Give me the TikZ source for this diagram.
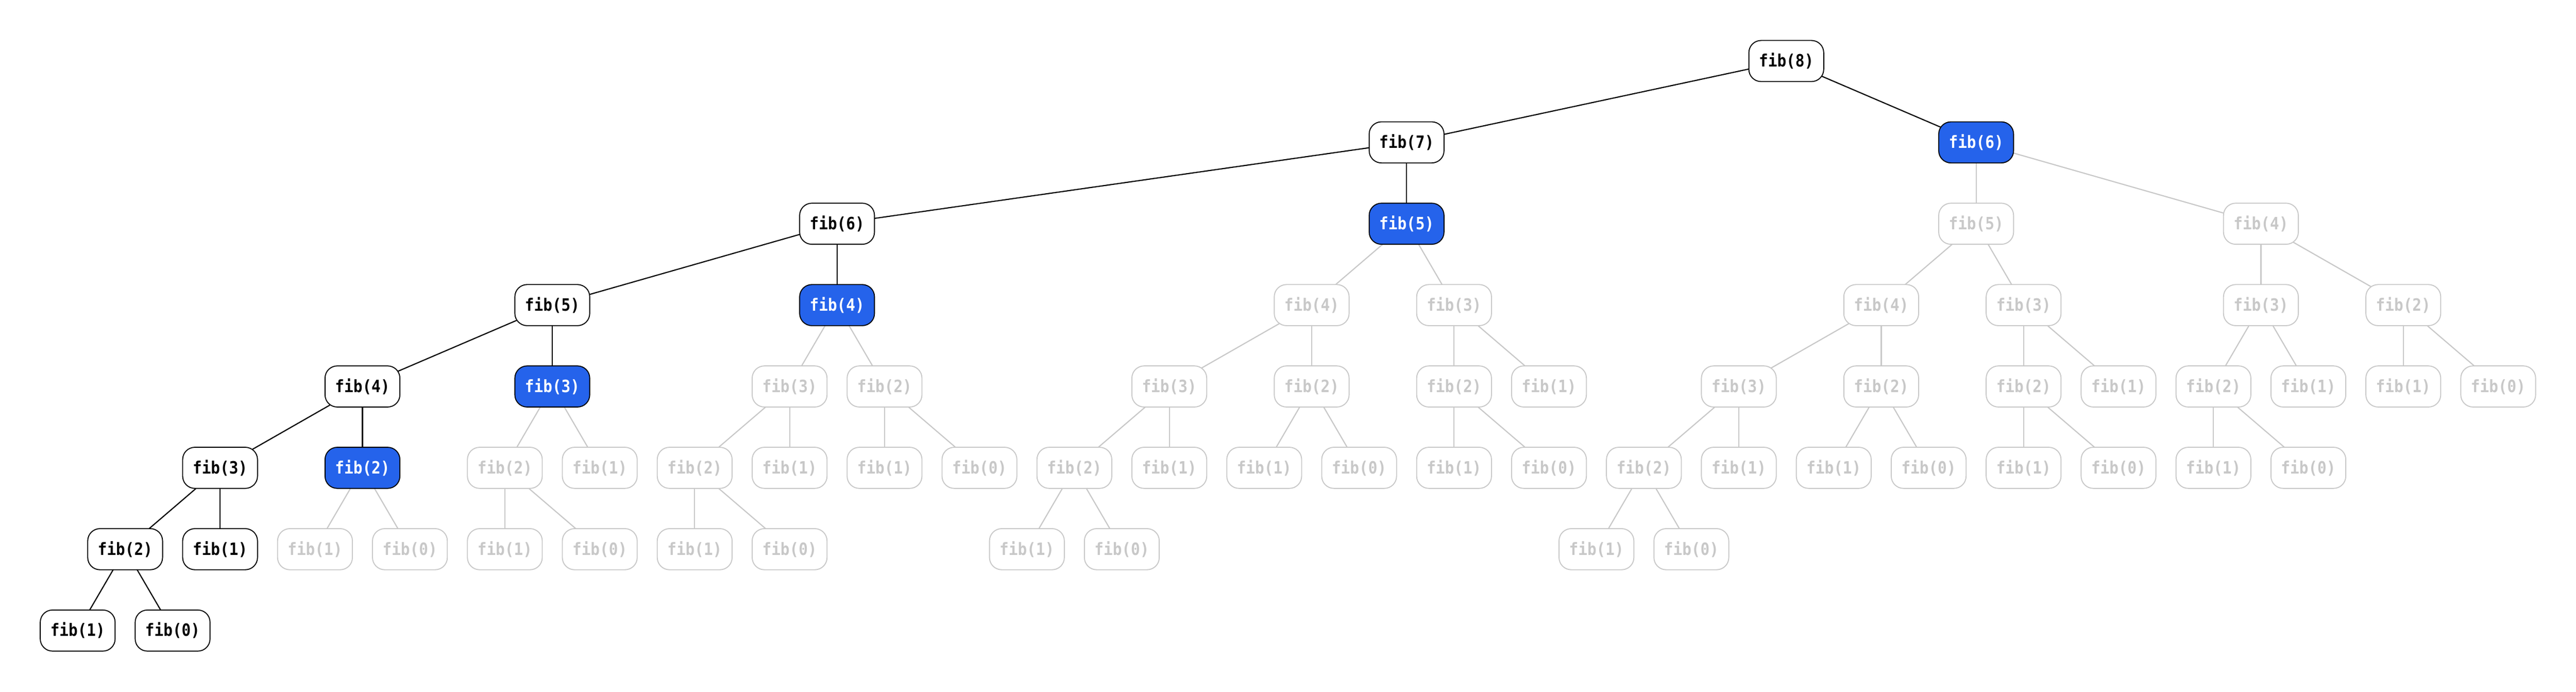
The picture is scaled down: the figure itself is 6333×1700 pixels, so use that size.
\documentclass[tikz,border=0pt]{standalone}
\usepackage{fontspec}
\setmonofont{DejaVu Sans Mono}
\usetikzlibrary{backgrounds}
\definecolor{hiblue}{HTML}{2563EB}
\definecolor{faint}{RGB}{200,200,200}
\tikzset{
  fib/.style={rectangle, rounded corners=7.5pt, minimum width=46pt, minimum height=25.25pt,
    inner sep=0pt, line width=0.6pt, fill=white,
    font=\fontsize{9.3}{11}\selectfont\ttfamily\bfseries},
  live/.style={fib, draw=black, text=black},
  memo/.style={fib, draw=black, fill=hiblue, text=white},
  skip/.style={fib, draw=faint, text=faint},
  ledge/.style={draw=black, line width=0.7pt},
  sedge/.style={draw=faint, line width=0.7pt}
}
\newcommand{\fibnode}[5]{\node[#4] (#1) at ({191+#2*116.68},{150+200*#3}) {\scalebox{1}[1.12]{fib(#5)}};}
\begin{document}
\begin{tikzpicture}[x=0.25pt, y=-0.25pt]
\useasboundingbox (0,0) rectangle (6333,1700);
% level 0
\fibnode{a}{36}{0}{live}{8}
% level 1
\fibnode{b}{28}{1}{live}{7}
\fibnode{c}{40}{1}{memo}{6}
% level 2
\fibnode{d}{16}{2}{live}{6}
\fibnode{e}{28}{2}{memo}{5}
\fibnode{f}{40}{2}{skip}{5}
\fibnode{g}{46}{2}{skip}{4}
% level 3
\fibnode{h}{10}{3}{live}{5}
\fibnode{i}{16}{3}{memo}{4}
\fibnode{j}{26}{3}{skip}{4}
\fibnode{l}{29}{3}{skip}{3}
\fibnode{m}{38}{3}{skip}{4}
\fibnode{n}{41}{3}{skip}{3}
\fibnode{o}{46}{3}{skip}{3}
\fibnode{p}{49}{3}{skip}{2}
% level 4
\fibnode{q}{6}{4}{live}{4}
\fibnode{r}{10}{4}{memo}{3}
\fibnode{s}{15}{4}{skip}{3}
\fibnode{t}{17}{4}{skip}{2}
\fibnode{u}{23}{4}{skip}{3}
\fibnode{v}{26}{4}{skip}{2}
\fibnode{w}{29}{4}{skip}{2}
\fibnode{x}{31}{4}{skip}{1}
\fibnode{y}{35}{4}{skip}{3}
\fibnode{z}{38}{4}{skip}{2}
\fibnode{aa}{41}{4}{skip}{2}
\fibnode{ab}{43}{4}{skip}{1}
\fibnode{ac}{45}{4}{skip}{2}
\fibnode{ad}{47}{4}{skip}{1}
\fibnode{ae}{49}{4}{skip}{1}
\fibnode{af}{51}{4}{skip}{0}
% level 5
\fibnode{ba}{3}{5}{live}{3}
\fibnode{bb}{6}{5}{memo}{2}
\fibnode{bc}{9}{5}{skip}{2}
\fibnode{bd}{11}{5}{skip}{1}
\fibnode{be}{13}{5}{skip}{2}
\fibnode{bf}{15}{5}{skip}{1}
\fibnode{bg}{17}{5}{skip}{1}
\fibnode{bh}{19}{5}{skip}{0}
\fibnode{bi}{21}{5}{skip}{2}
\fibnode{bj}{23}{5}{skip}{1}
\fibnode{bk}{25}{5}{skip}{1}
\fibnode{bl}{27}{5}{skip}{0}
\fibnode{bm}{29}{5}{skip}{1}
\fibnode{bn}{31}{5}{skip}{0}
\fibnode{bo}{33}{5}{skip}{2}
\fibnode{bp}{35}{5}{skip}{1}
\fibnode{bq}{37}{5}{skip}{1}
\fibnode{br}{39}{5}{skip}{0}
\fibnode{bs}{41}{5}{skip}{1}
\fibnode{bt}{43}{5}{skip}{0}
\fibnode{bu}{45}{5}{skip}{1}
\fibnode{bv}{47}{5}{skip}{0}
% level 6
\fibnode{ca}{1}{6}{live}{2}
\fibnode{cb}{3}{6}{live}{1}
\fibnode{cc}{5}{6}{skip}{1}
\fibnode{cd}{7}{6}{skip}{0}
\fibnode{ce}{9}{6}{skip}{1}
\fibnode{cf}{11}{6}{skip}{0}
\fibnode{cg}{13}{6}{skip}{1}
\fibnode{ch}{15}{6}{skip}{0}
\fibnode{ci}{20}{6}{skip}{1}
\fibnode{cj}{22}{6}{skip}{0}
\fibnode{ck}{32}{6}{skip}{1}
\fibnode{cl}{34}{6}{skip}{0}
% level 7
\fibnode{da}{0}{7}{live}{1}
\fibnode{db}{2}{7}{live}{0}
\begin{scope}[on background layer]
% live path edges
\foreach \p/\c in {a/b, a/c, b/d, b/e, d/h, d/i, h/q, h/r, q/ba, q/bb, ba/ca, ba/cb, ca/da, ca/db}
  \draw[ledge] (\p.center) -- (\c.center);
% skipped edges
\foreach \p/\c in {c/f, c/g, e/j, e/l, f/m, f/n, g/o, g/p,
  i/s, i/t, j/u, j/v, l/w, l/x, m/y, m/z, n/aa, n/ab, o/ac, o/ad, p/ae, p/af,
  r/bc, r/bd, s/be, s/bf, t/bg, t/bh, u/bi, u/bj, v/bk, v/bl, w/bm, w/bn,
  y/bo, y/bp, z/bq, z/br, aa/bs, aa/bt, ac/bu, ac/bv,
  bb/cc, bb/cd, bc/ce, bc/cf, be/cg, be/ch, bi/ci, bi/cj, bo/ck, bo/cl}
  \draw[sedge] (\p.center) -- (\c.center);
\end{scope}
\end{tikzpicture}
\end{document}
